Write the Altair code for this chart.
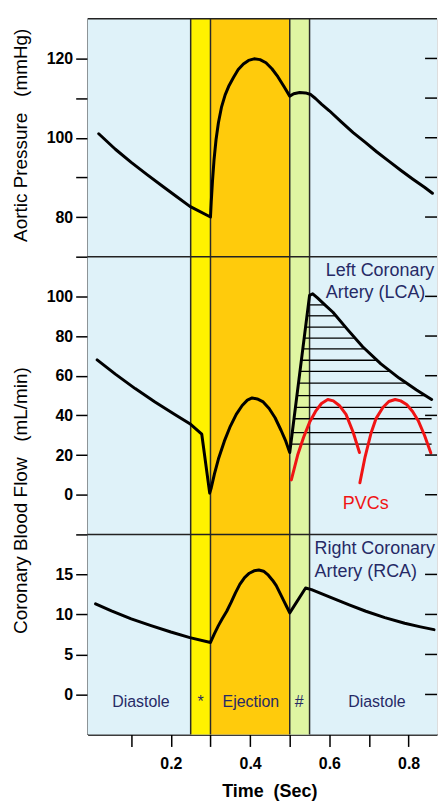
import altair as alt
import pandas as pd
import numpy as np

# ---------------- data ----------------
t_aortic = [0.018, 0.06, 0.10, 0.14, 0.18, 0.215, 0.248, 0.30, 0.302, 0.305, 0.309, 0.314,
            0.32, 0.328, 0.337, 0.347, 0.358, 0.37, 0.383, 0.396, 0.41, 0.425, 0.44, 0.455,
            0.47, 0.485, 0.50, 0.51, 0.525, 0.54, 0.553, 0.565, 0.58, 0.60, 0.63, 0.66,
            0.69, 0.72, 0.75, 0.78, 0.81, 0.84, 0.86]
p_aortic = [101.0, 97.1, 93.8, 90.7, 87.7, 85.1, 82.7, 80.0, 84.0, 89.0, 94.5, 99.5,
            103.8, 107.8, 110.8, 113.2, 115.2, 117.2, 118.6, 119.5, 119.9, 119.7, 118.9, 117.4,
            115.4, 113.0, 110.5, 111.1, 111.4, 111.3, 110.9, 109.9, 108.5, 106.8, 104.0, 101.3,
            98.9, 96.4, 94.1, 91.8, 89.6, 87.5, 86.0]

t_lca = [0.014, 0.06, 0.11, 0.16, 0.21, 0.25, 0.278, 0.298, 0.302, 0.31, 0.32, 0.335,
         0.35, 0.365, 0.38, 0.393, 0.405, 0.418, 0.433, 0.448, 0.463, 0.478, 0.49, 0.50,
         0.55, 0.558, 0.57, 0.59, 0.609, 0.645, 0.684, 0.73, 0.776, 0.82, 0.858]
f_lca = [68, 60.8, 53.5, 46.8, 40.5, 35.5, 30.5, 0.8, 3.5, 10.5, 18, 27,
         34.5, 40.5, 45, 47.7, 48.8, 48.3, 46.8, 43.5, 38.8, 32.5, 27, 21.3,
         100.5, 101.3, 99.2, 95.5, 92, 83.5, 74.6, 66, 58.8, 52.8, 48]

t_pvc1 = [0.504, 0.52, 0.535, 0.55, 0.565, 0.58, 0.596, 0.61, 0.625, 0.642, 0.66, 0.676]
f_pvc1 = [7.5, 20, 29, 36.5, 42, 46, 48, 47.3, 45, 40.5, 31.5, 21.3]
t_pvc2 = [0.677, 0.69, 0.705, 0.718, 0.735, 0.75, 0.766, 0.78, 0.795, 0.81, 0.825, 0.84, 0.856]
f_pvc2 = [6, 19, 31, 38.5, 44, 47, 48, 47.3, 45.5, 42, 37, 30, 21]

t_rca = [0.01, 0.05, 0.10, 0.15, 0.20, 0.248, 0.30, 0.31, 0.32, 0.33, 0.341, 0.352,
         0.363, 0.374, 0.386, 0.398, 0.41, 0.422, 0.434, 0.446, 0.457, 0.466, 0.476, 0.485,
         0.493, 0.50, 0.54, 0.555, 0.60, 0.65, 0.692, 0.74, 0.79, 0.83, 0.864]
f_rca = [11.33, 10.45, 9.45, 8.6, 7.8, 7.1, 6.5, 7.6, 8.6, 9.5, 10.4, 11.5,
         12.7, 13.75, 14.6, 15.15, 15.45, 15.55, 15.4, 14.9, 14.25, 13.6, 12.6, 11.7,
         10.9, 10.2, 13.3, 13.1, 12.2, 11.2, 10.4, 9.6, 8.9, 8.45, 8.1]

hatch_levels = [25.5, 31.3, 38.3, 44.0, 50.0, 56.3, 62.2, 67.8, 73.5, 79.0, 84.5, 90.2, 95.7]

band_start = [0.25, 0.30, 0.50]
band_end = [0.30, 0.50, 0.55]
band_color = ["#FFF200", "#FFCB0C", "#DFF5A2"]
band_edges = [0.25, 0.30, 0.50, 0.55]

phase_labels = ["Diastole", "*", "Ejection", "#", "Diastole"]
phase_t = [0.1246, 0.275, 0.402, 0.524, 0.720]
phase_v = [-0.9, -0.9, -0.9, -0.9, -0.9]

lca_text = ["Left Coronary", "Artery (LCA)"]
lca_text_t = [0.591, 0.591]
lca_text_v = [110.2, 99.2]
rca_text = ["Right Coronary", "Artery (RCA)"]
rca_text_t = [0.5626, 0.5626]
rca_text_v = [17.5, 14.7]
pvc_text = ["PVCs"]
pvc_text_t = [0.634]
pvc_text_v = [-7.0]

NBSP = "\u00a0"
top_title = "Aortic Pressure" + NBSP * 3 + "(mmHg)"
mid_title = "Coronary Blood Flow" + NBSP * 3 + "(mL/min)"
x_title = "Time" + NBSP * 2 + "(Sec)"

top_ticks = [80, 90, 100, 110, 120]
mid_ticks = [0, 20, 40, 60, 80, 100, 120]
bot_ticks = [0, 5, 10, 15, 20]
x_ticks = [0.1, 0.2, 0.3, 0.4, 0.5, 0.6, 0.7, 0.8]

# ---------------- styling ----------------
FONT = "Liberation Sans"
NAVY = "#262A66"
BG = "#DFF2F9"
W = 351
H_TOP, H_MID, H_BOT = 239, 279, 201
XDOM = [-0.01, 0.8716]

xs = alt.Scale(domain=XDOM, nice=False, zero=False)

x_axis_bottom = alt.Axis(
    values=x_ticks, format=".1f",
    labelExpr="round(datum.value*10) % 2 == 0 ? datum.label : ''",
    tickSize=12, tickWidth=1.5, tickColor="black",
    domainColor="black", domainWidth=1.5,
    labelFont=FONT, labelFontSize=16, labelFontWeight="bold", labelColor="black",
    labelPadding=9, labelOverlap=False, labelFlush=False,
    title=None, grid=False,
)


def y_axis(values, expr):
    return alt.Axis(
        values=values, labelExpr=expr,
        tickSize=12, tickWidth=1.5, tickColor="black",
        domainColor="black", domainWidth=1.5,
        labelFont=FONT, labelFontSize=16, labelFontWeight="bold", labelColor="black",
        labelPadding=3, labelOverlap=False, labelFlush=False,
        grid=False, title=None,
    )


def one(**kw):
    return pd.DataFrame({k: [v] for k, v in kw.items()})


def panel(ydom, yaxis, height, line_layers, extra_layers, right_ticks, deco, x_axis=None):
    ys = alt.Scale(domain=ydom, nice=False, zero=False)

    def X(field):
        return alt.X(field, type="quantitative", scale=xs, axis=x_axis)

    def Y(field):
        return alt.Y(field, type="quantitative", scale=ys, axis=yaxis)

    bg = alt.Chart(one(a=0)).mark_rect(color=BG).encode(
        x=alt.value(0), x2=alt.value(W), y=alt.value(0), y2=alt.value(height))
    bands = alt.Chart(pd.DataFrame({"s": band_start, "e": band_end, "c": band_color})).mark_rect().encode(
        x=X("s"), x2="e", color=alt.Color("c:N", scale=None))
    edges = alt.Chart(pd.DataFrame({"t": band_edges})).mark_rule(color="#2b2b2b", strokeWidth=1.5).encode(
        x=X("t"))
    border = alt.Chart(one(a=0)).mark_rule(color="#222222", strokeWidth=1.5).encode(
        x=alt.value(0), x2=alt.value(W), y=alt.value(0))
    rticks = alt.Chart(pd.DataFrame({"v": right_ticks})).mark_rule(color="black", strokeWidth=1.5).encode(
        x=alt.value(W - 12), x2=alt.value(W), y=Y("v"))

    layers = [bg, bands, edges]
    for df, kind, style in line_layers:
        if kind == "hatch":
            layers.append(alt.Chart(df).mark_rule(color="black", strokeWidth=1.3).encode(
                x=X("t1"), x2="t2", y=Y("v")))
        else:
            layers.append(alt.Chart(df).mark_line(strokeCap="round", strokeJoin="round", **style).encode(
                x=X("t"), y=Y("v"), detail="g:N", order="i:Q"))
    for df, style in extra_layers:
        layers.append(alt.Chart(df).mark_text(**style).encode(x=X("t"), y=Y("v"), text="s:N"))
    for text, px, py, style in deco:
        layers.append(alt.Chart(one(s=text)).mark_text(**style).encode(
            x=alt.value(px), y=alt.value(py), text="s:N"))
    layers += [rticks, border]
    return alt.layer(*layers).properties(width=W, height=height)


def line_df(ts, vs, g=0):
    return pd.DataFrame({"t": ts, "v": vs, "g": [g] * len(ts), "i": list(range(len(ts)))})


t_l = np.array(t_lca)
f_l = np.array(f_lca)
i_start = t_lca.index(0.50)
i_peak = t_lca.index(0.558)
rise_t, rise_f = t_l[i_start:i_start + 2], f_l[i_start:i_start + 2]
desc_t, desc_f = t_l[i_peak:], f_l[i_peak:]
lv = np.array(hatch_levels)
hatch_df = pd.DataFrame({
    "v": lv,
    "t1": np.interp(lv, rise_f, rise_t),
    "t2": np.interp(lv, desc_f[::-1], desc_t[::-1]),
})

black = dict(color="black", strokeWidth=3)
red = dict(color="#F01414", strokeWidth=3)

txt_navy = dict(font=FONT, fontSize=18, color=NAVY, align="left", baseline="alphabetic")
txt_phase = dict(font=FONT, fontSize=16, color=NAVY, align="center", baseline="middle")
txt_red = dict(font=FONT, fontSize=18, color="#F01414", align="left", baseline="alphabetic")
ytitle = dict(font=FONT, fontSize=19, color="black", angle=270, align="center", baseline="alphabetic")
xtitle = dict(font=FONT, fontSize=18, fontWeight="bold", color="black", align="center", baseline="alphabetic")

top = panel(
    [70, 130],
    y_axis(top_ticks, "datum.value % 20 == 0 ? datum.label : ''"),
    H_TOP,
    [(line_df(t_aortic, p_aortic), "line", black)],
    [],
    top_ticks,
    [(top_title, -61, 117, ytitle)],
)

pvc_df = pd.concat([line_df(t_pvc1, f_pvc1, 1), line_df(t_pvc2, f_pvc2, 2)], ignore_index=True)
mid = panel(
    [-20, 120],
    y_axis(mid_ticks, "datum.value < 110 ? datum.label : ''"),
    H_MID,
    [(hatch_df, "hatch", None), (line_df(t_lca, f_lca), "line", black), (pvc_df, "line", red)],
    [(pd.DataFrame({"t": lca_text_t, "v": lca_text_v, "s": lca_text}), txt_navy),
     (pd.DataFrame({"t": pvc_text_t, "v": pvc_text_v, "s": pvc_text}), txt_red)],
    mid_ticks[:-1],
    [(mid_title, -61, 245, ytitle)],
)

bot = panel(
    [-5, 20],
    y_axis(bot_ticks, "datum.value < 18 ? datum.label : ''"),
    H_BOT,
    [(line_df(t_rca, f_rca), "line", black)],
    [(pd.DataFrame({"t": rca_text_t, "v": rca_text_v, "s": rca_text}), txt_navy),
     (pd.DataFrame({"t": phase_t, "v": phase_v, "s": phase_labels}), txt_phase)],
    bot_ticks[:-1],
    [(x_title, 183, H_BOT + 63, xtitle)],
    x_axis=x_axis_bottom,
)

chart = alt.vconcat(top, mid, bot, spacing=0, bounds="flush").properties(
    padding={"left": 3, "top": 7, "right": 0, "bottom": 0},
).configure_view(stroke="transparent").configure(font=FONT)

chart.save("out.html", embed_options={"renderer": "svg", "actions": False})
